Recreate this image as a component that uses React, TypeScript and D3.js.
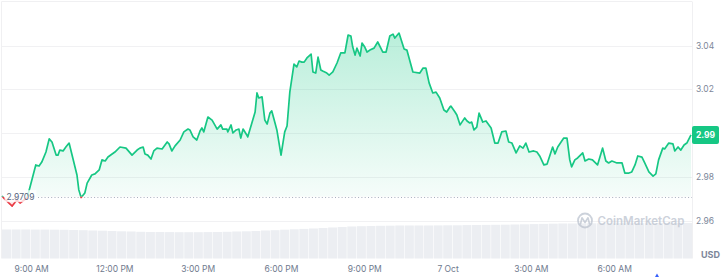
import React from "react";
import * as d3 from "d3";

// ---- data ----
const START = new Date(2024, 9, 6, 7, 56); // first sample time
const minutesFromStart = [
  0, 6, 22, 32, 39, 54, 60, 73, 80, 86,
  95, 102, 108, 117, 121, 125, 132, 138, 145, 153,
  162, 166, 171, 179, 184, 194, 201, 210, 216, 223,
  229, 244, 255, 268, 281, 292, 298, 305, 309, 315,
  322, 328, 335, 346, 357, 361, 367, 374, 385, 393,
  402, 406, 413, 421, 428, 432, 436, 445, 454, 465,
  473, 477, 486, 488, 495, 499, 506, 512, 516, 521,
  529, 531, 540, 547, 551, 555, 562, 568, 573, 579,
  583, 590, 594, 603, 611, 616, 622, 631, 637, 642,
  648, 653, 659, 668, 672, 678, 683, 689, 693, 702,
  707, 715, 724, 732, 741, 748, 754, 758, 763, 767,
  774, 778, 784, 789, 795, 804, 812, 823, 830, 838,
  845, 849, 858, 869, 875, 888, 903, 910, 916, 923,
  931, 938, 946, 955, 961, 968, 970, 979, 983, 990,
  1000, 1005, 1011, 1015, 1020, 1026, 1031, 1039, 1046, 1057,
  1065, 1072, 1080, 1089, 1095, 1102, 1111, 1119, 1126, 1132,
  1139, 1149, 1156, 1162, 1171, 1178, 1190, 1195, 1201, 1214,
  1221, 1227, 1231, 1238, 1244, 1255, 1260, 1268, 1276, 1287,
  1298, 1305, 1311, 1318, 1329, 1340, 1346, 1355, 1361, 1368,
  1374, 1383, 1389, 1398, 1407, 1413, 1419, 1428, 1432, 1441,
  1450, 1454, 1461, 1467, 1474, 1480, 1489,
];
const prices = [
  2.9712, 2.9698, 2.9666, 2.9694, 2.968, 2.9703, 2.9749, 2.9854, 2.9849, 2.9867,
  2.9913, 2.9973, 2.9959, 2.9899, 2.9899, 2.9922, 2.9918, 2.9936, 2.9954, 2.9886,
  2.9808, 2.974, 2.9705, 2.9726, 2.9771, 2.9808, 2.9813, 2.9831, 2.9877, 2.9872,
  2.989, 2.9913, 2.9936, 2.9931, 2.9899, 2.9922, 2.9931, 2.9936, 2.9904, 2.9899,
  2.9881, 2.9918, 2.9931, 2.9927, 2.9959, 2.995, 2.9918, 2.9941, 2.9968, 3.0005,
  3.0018, 3.0014, 2.9982, 2.9968, 3.0009, 3.0023, 3.0005, 3.0073, 3.0059, 3.0018,
  3.0037, 3.0018, 3.0018, 3.0005, 3.0037, 3.0, 3.0014, 3.0018, 2.9977, 3.0018,
  2.9991, 2.9982, 3.0046, 3.0096, 3.0183, 3.016, 3.0165, 3.0059, 3.0041, 3.0091,
  3.0101, 3.0046, 3.0014, 2.9899, 3.0005, 3.0032, 3.0187, 3.0315, 3.0302, 3.0329,
  3.0324, 3.0324, 3.0343, 3.0361, 3.0279, 3.0274, 3.0347, 3.0288, 3.0283, 3.0274,
  3.0265, 3.0279, 3.032, 3.0366, 3.0366, 3.0448, 3.0443, 3.0393, 3.0356, 3.0388,
  3.0352, 3.0411, 3.0393, 3.037, 3.0379, 3.0388, 3.0416, 3.037, 3.037, 3.0443,
  3.0452, 3.0434, 3.0457, 3.0384, 3.0379, 3.0279, 3.0274, 3.0297, 3.0297, 3.0229,
  3.0183, 3.0187, 3.016, 3.0105, 3.0096, 3.0119, 3.0123, 3.0096, 3.0082, 3.0037,
  3.0069, 3.0055, 3.0046, 3.005, 3.0014, 3.0027, 3.0091, 3.005, 3.0055, 3.0023,
  2.9954, 2.9954, 3.0005, 3.0009, 2.9959, 2.9954, 2.9909, 2.9941, 2.9931, 2.9954,
  2.9913, 2.9918, 2.9913, 2.9895, 2.9854, 2.9858, 2.9936, 2.9904, 2.9936, 2.9977,
  2.9977, 2.9877, 2.9845, 2.9877, 2.9886, 2.9909, 2.9872, 2.9881, 2.9877, 2.9854,
  2.9931, 2.9872, 2.9863, 2.9872, 2.9863, 2.9863, 2.9817, 2.9817, 2.9822, 2.9854,
  2.9895, 2.989, 2.9863, 2.9822, 2.9803, 2.9813, 2.9877, 2.9931, 2.9927, 2.9954,
  2.995, 2.9918, 2.9936, 2.9922, 2.9945, 2.9954, 2.9991,
];
const volumes = [
  290, 290, 290, 289, 289, 288, 287, 285, 283, 280,
  278, 275, 272, 270, 267, 265, 265, 264, 263, 263,
  263, 264, 265, 267, 270, 272, 275, 280, 283, 288,
  292, 296, 300, 305, 310, 315, 320, 323, 325, 327,
  328, 330, 330, 330, 330, 331, 332, 332, 334, 335,
  336, 337, 338, 340, 342, 344, 346, 348, 350, 350,
  351, 352, 352, 352, 353, 353, 353, 353, 354, 354,
  354, 355,
];
const openPrice = 2.9709;
const openLabel = "2.9709";
const lastLabel = "2.99";
const yTicks = [2.96, 2.98, 3.0, 3.02, 3.04];
const xTickTimes = [
  new Date(2024, 9, 6, 9), new Date(2024, 9, 6, 12), new Date(2024, 9, 6, 15),
  new Date(2024, 9, 6, 18), new Date(2024, 9, 6, 21), new Date(2024, 9, 7, 0),
  new Date(2024, 9, 7, 3), new Date(2024, 9, 7, 6),
];
const xTickLabels = ["9:00 AM", "12:00 PM", "3:00 PM", "6:00 PM", "9:00 PM", "7 Oct", "3:00 AM", "6:00 AM"];

const GREEN = "#16c784";
const RED = "#ea3943";
const FONT = "Inter, 'Noto Sans', sans-serif";

export default function App() {
  const W = 724, H = 277;
  const left = 2, right = 691, plotRight = 692;
  const n = Math.min(minutesFromStart.length, prices.length);
  const pts = d3.range(n).map((i) => ({
    t: d3.timeMinute.offset(START, minutesFromStart[i]),
    v: prices[i],
  }));
  const x = d3.scaleTime().domain([START, pts[n - 1].t]).range([left, right]);
  const y = d3.scaleLinear().domain([2.96, 3.04]).range([220.5, 45.5]);
  const yb = y(openPrice);
  const yLast = y(pts[n - 1].v);

  const line = d3.line<any>().x((d) => x(d.t)).y((d) => y(d.v));
  const area = d3.area<any>().x((d) => x(d.t)).y0(yb).y1((d) => y(d.v));

  const vx = d3.scaleBand<number>().domain(d3.range(volumes.length)).range([left, plotRight]).paddingInner(0.06);
  const vy = d3.scaleLinear().domain([0, 400]).range([258.5, 218.5]);

  // tick labels hidden behind the last-price tag are not drawn
  const visibleTicks = yTicks.filter((t) => Math.abs(y(t) - yLast) > 11);

  return (
    <div style={{ position: "absolute", left: 0, top: 0, width: W, height: H, background: "#fff" }}>
      <svg width={W} height={H} style={{ display: "block", fontFamily: FONT }}>
        <defs>
          <linearGradient id="gfill" gradientUnits="userSpaceOnUse" x1="0" y1={y(3.046)} x2="0" y2={yb}>
            <stop offset="0" stopColor={GREEN} stopOpacity={0.3} />
            <stop offset="1" stopColor={GREEN} stopOpacity={0.04} />
          </linearGradient>
          <linearGradient id="rfill" gradientUnits="userSpaceOnUse" x1="0" y1={yb} x2="0" y2={y(2.966)}>
            <stop offset="0" stopColor={RED} stopOpacity={0.04} />
            <stop offset="1" stopColor={RED} stopOpacity={0.2} />
          </linearGradient>
          <clipPath id="above">
            <rect x={0} y={0} width={plotRight} height={yb} />
          </clipPath>
          <clipPath id="below">
            <rect x={0} y={yb} width={plotRight} height={H - yb} />
          </clipPath>
        </defs>

        {/* frame */}
        <line x1={1.5} x2={plotRight} y1={1.5} y2={1.5} stroke="#f0f0f2" />
        <line x1={1.5} x2={1.5} y1={1.5} y2={258.5} stroke="#f0f0f2" />
        <line x1={plotRight + 0.5} x2={plotRight + 0.5} y1={1.5} y2={258.5} stroke="#f0f0f2" />

        {/* grid */}
        {yTicks.map((t) => (
          <line key={t} x1={1.5} x2={plotRight} y1={Math.round(y(t)) + 0.5} y2={Math.round(y(t)) + 0.5} stroke="#f1f1f3" />
        ))}

        {/* volume */}
        {volumes.map((v, i) => (
          <rect key={i} x={vx(i)} y={vy(v)} width={vx.bandwidth()} height={vy(0) - vy(v)} fill="#eceef2" />
        ))}

        {/* watermark */}
        <g opacity={0.75}>
          <circle cx={585} cy={220.5} r={7} fill="none" stroke="#bcc3cf" strokeWidth={1.8} />
          <path d="M580.5,224 L582,217.8 L585,222.5 L588,217.8 L589.5,224" fill="none" stroke="#bcc3cf" strokeWidth={1.6} strokeLinejoin="round" strokeLinecap="round" />
          <text x={597.5} y={224.5} fontSize={11.5} fontWeight={600} fill="#bcc3cf">CoinMarketCap</text>
        </g>

        {/* areas */}
        <path d={area(pts) || ""} fill="url(#gfill)" clipPath="url(#above)" />
        <path d={area(pts) || ""} fill="url(#rfill)" clipPath="url(#below)" />

        {/* baseline */}
        <line x1={38} x2={plotRight} y1={Math.round(yb) + 0.5} y2={Math.round(yb) + 0.5} stroke="#a7aebd" strokeWidth={1} strokeDasharray="1 2.3" />

        {/* price line */}
        <path d={line(pts) || ""} fill="none" stroke={GREEN} strokeWidth={1.7} strokeLinejoin="round" clipPath="url(#above)" />
        <path d={line(pts) || ""} fill="none" stroke={RED} strokeWidth={1.7} strokeLinejoin="round" clipPath="url(#below)" />

        {/* open price label */}
        <rect x={4.5} y={yb - 6.5} width={32} height={12} fill="#fff" opacity={0.78} />
        <text x={6.5} y={yb} dy="0.35em" fontSize={8.5} fill="#58667e">{openLabel}</text>

        {/* y axis labels */}
        {visibleTicks.map((t) => (
          <text key={t} x={696} y={y(t)} dy="0.36em" fontSize={8.5} fill="#7d879a">{d3.format(".2f")(t)}</text>
        ))}

        {/* last price box */}
        <rect x={plotRight} y={yLast - 9} width={27} height={18} rx={2} fill={GREEN} />
        <text x={plotRight + 13.5} y={yLast} dy="0.36em" textAnchor="middle" fontSize={8.5} fontWeight={700} fill="#fff">{lastLabel}</text>

        {/* USD */}
        <text x={701} y={257.5} fontSize={9} fontWeight={700} fill="#7d879a">USD</text>

        {/* x axis labels */}
        {xTickTimes.map((t, i) => (
          <text key={i} x={x(t)} y={272} textAnchor="middle" fontSize={8.5} fill="#6f7a8e">{xTickLabels[i]}</text>
        ))}

        {/* small marker */}
        <path d="M655,277 L657,273.5 L659,277 Z" fill="#3861fb" />
      </svg>
    </div>
  );
}
